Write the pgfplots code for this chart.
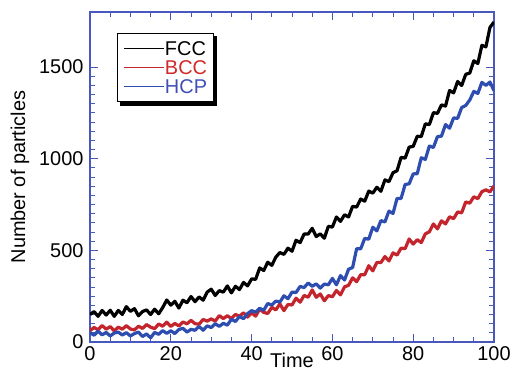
\documentclass[border=0pt]{standalone}
\usepackage{fontspec}
\setmainfont{Liberation Sans}
\usepackage{pgfplots}
\usepackage{pgfplotstable}
\pgfplotsset{compat=1.18}
\pgfdeclarelayer{background}
\pgfsetlayers{background,main}
\definecolor{axisblue}{RGB}{72,88,190}
\definecolor{bccred}{RGB}{196,36,43}
\definecolor{hcpblue}{RGB}{46,77,176}
\definecolor{legred}{RGB}{208,42,42}
\definecolor{legblue}{RGB}{64,80,184}
\pgfplotstableread{
t fcc bcc hcp
0 150 62 51
1 166 79 37
2 140 67 59
3 172 90 39
4 147 70 52
5 173 84 33
6 140 61 49
7 172 81 54
8 150 70 38
9 193 89 51
10 167 71 33
11 182 66 46
12 143 86 54
13 166 74 30
14 175 95 44
15 150 81 23
16 179 73 52
17 154 98 42
18 188 86 62
19 229 108 47
20 201 85 61
21 222 101 46
22 185 88 68
23 228 109 75
24 214 99 54
25 248 118 69
26 220 100 64
27 246 97 85
28 228 123 64
29 272 114 88
30 288 126 79
31 254 114 100
32 280 144 85
33 272 128 102
34 306 143 92
35 268 128 124
36 304 150 112
37 286 141 139
38 325 159 127
39 306 136 155
40 344 159 171
41 342 141 163
42 404 180 184
43 390 161 173
44 435 156 210
45 418 189 201
46 463 175 223
47 488 208 218
48 478 171 252
49 512 205 236
50 495 202 272
51 555 239 270
52 542 217 303
53 589 254 297
54 589 244 322
55 620 284 304
56 575 244 317
57 590 262 294
58 566 225 316
59 631 253 312
60 627 247 347
61 682 281 312
62 658 257 362
63 694 301 338
64 682 309 397
65 740 350 406
66 736 329 509
67 780 367 508
68 768 367 565
69 823 416 561
70 812 388 626
71 844 434 606
72 822 433 662
73 884 466 655
74 875 442 714
75 923 486 701
76 934 474 783
77 1007 512 783
78 1003 509 859
79 1063 562 863
80 1067 534 917
81 1122 558 918
82 1121 542 1005
83 1190 590 996
84 1186 601 1069
85 1251 644 1061
86 1247 617 1120
87 1293 661 1123
88 1287 644 1186
89 1372 683 1166
90 1359 673 1222
91 1421 709 1220
92 1399 705 1279
93 1460 764 1290
94 1467 757 1320
95 1534 792 1367
96 1519 782 1356
97 1618 820 1416
98 1610 830 1400
99 1716 819 1418
100 1745 851 1371
}\datatable
\begin{document}
\begin{tikzpicture}
\begin{axis}[
  at={(0,0)}, anchor=south west,
  width=404bp, height=330bp, scale only axis,
  xmin=0, xmax=100, ymin=0, ymax=1800,
  xtick={0,20,40,60,80,100},
  ytick={0,500,1000,1500},
  minor x tick num=3,
  minor y tick num=9,
  tick align=inside,
  major tick length=8bp,
  minor tick length=5bp,
  axis line style={draw=axisblue, line width=1.1pt},
  every tick/.style={draw=axisblue, line width=0.9pt},
  /pgf/number format/assume math mode=true,
  /pgf/number format/1000 sep={},
  tick label style={font=\fontsize{20}{24}\selectfont, text=black},
  xticklabel style={yshift=-1bp},
  yticklabel style={xshift=-3bp},
  xlabel={Time},
  ylabel={Number of particles},
  label style={font=\fontsize{20}{24}\selectfont},
  xlabel style={at={(axis description cs:0.5,0)}, anchor=north, inner sep=0pt, yshift=-11bp},
  ylabel style={at={(axis description cs:-0.1733,0.5)}, anchor=center},
  legend cell align=left,
  legend style={
    name=leg,
    at={(axis description cs:0.0668,0.9364)}, anchor=north west,
    draw=black, line width=0.8pt, fill=white,
    font=\fontsize{20}{20}\selectfont,
    nodes={inner sep=0pt, text height=14.3bp, text depth=0bp, anchor=base west},
    row sep=4.7bp,
    inner xsep=6bp, inner ysep=8bp,
    /tikz/every even column/.append style={column sep=2bp},
  },
  legend image code/.code={\draw[line width=1.6bp] (0bp,7bp) -- (40bp,7bp);},
]
\addplot[black, line width=3.2bp, line join=round] table[x=t, y=fcc] {\datatable};
\addlegendentry{FCC}
\addplot[bccred, line width=3.2bp, line join=round] table[x=t, y=bcc] {\datatable};
\addlegendentry{\textcolor{legred}{BCC}}
\addplot[hcpblue, line width=3.2bp, line join=round] table[x=t, y=hcp] {\datatable};
\addlegendentry{\textcolor{legblue}{HCP}}
\end{axis}
\begin{pgfonlayer}{background}
\fill[black] ([shift={(3.5bp,-3.5bp)}]leg.south west) rectangle ([shift={(3.5bp,-3.5bp)}]leg.north east);
\end{pgfonlayer}
\pgfresetboundingbox
\path[use as bounding box] (-90bp,-32bp) rectangle (420bp,342bp);
\end{tikzpicture}
\end{document}
